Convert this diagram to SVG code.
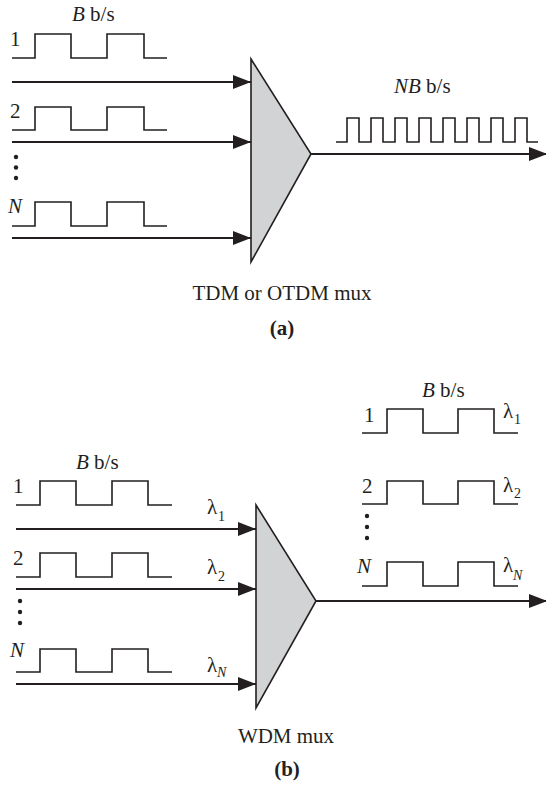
<svg xmlns="http://www.w3.org/2000/svg" width="546" height="786" viewBox="0 0 546 786" font-family="'Liberation Serif', 'Times New Roman', 'DejaVu Serif', serif">
<style>
text{font-family:'Liberation Serif','Times New Roman','DejaVu Serif',serif;font-size:21px;fill:#231f20}
.sub{font-size:14px}
.it{font-style:italic}
.bold{font-weight:bold}
.pulse{fill:none;stroke:#231f20;stroke-width:1.6}
.arrow{fill:none;stroke:#231f20;stroke-width:1.8;marker-end:url(#ah)}
.mux{fill:#d2d3d5;stroke:#231f20;stroke-width:1.6;stroke-linejoin:miter}
.dot{fill:#231f20}
</style>
<defs>
<marker id="ah" markerUnits="userSpaceOnUse" markerWidth="18" markerHeight="14" refX="18" refY="7" orient="auto">
<path d="M0,0 L18,7 L0,14 z" fill="#231f20"/>
</marker>
</defs>

<!-- (a) TDM -->
<g id="tdm-inputs">
<text x="72" y="21"><tspan class="it">B</tspan> b/s</text>
<text x="10" y="46">1</text>
<path class="pulse" d="M12,58 H35 V34 H71 V58 H107 V34 H144 V58 H167"/>
<text x="10" y="118">2</text>
<path class="pulse" d="M12,130 H35 V107 H71 V130 H107 V107 H144 V130 H167"/>
<circle class="dot" cx="16" cy="157" r="2.2"/>
<circle class="dot" cx="16" cy="167.5" r="2.2"/>
<circle class="dot" cx="16" cy="178" r="2.2"/>
<text class="it" x="8" y="213">N</text>
<path class="pulse" d="M12,226 H35 V202 H71 V226 H107 V202 H144 V226 H167"/>
</g>
<g id="tdm-mux">
<polygon class="mux" points="251,59 311,154 251,262"/>
<text x="282" y="300" text-anchor="middle">TDM or OTDM mux</text>
<text class="bold" x="282" y="335" text-anchor="middle">(a)</text>
</g>
<g id="tdm-output">
<text x="394" y="93"><tspan class="it">NB</tspan> b/s</text>
<path class="pulse" d="M336,142 H347 V118 H359 V142 H371 V118 H383 V142 H395 V118 H407 V142 H419 V118 H431 V142 H443 V118 H455 V142 H467 V118 H479 V142 H491 V118 H503 V142 H515 V118 H527 V142 H538"/>
</g>

<!-- (b) WDM -->
<g id="wdm-inputs">
<text x="76" y="469"><tspan class="it">B</tspan> b/s</text>
<text x="13" y="493">1</text>
<path class="pulse" d="M16,505 H40 V481 H76 V505 H112 V481 H148 V505 H172"/>
<text x="207" y="514">λ</text><text class="sub" x="218" y="521">1</text>
<text x="13" y="565">2</text>
<path class="pulse" d="M16,577 H40 V553 H76 V577 H112 V553 H148 V577 H172"/>
<text x="207" y="574">λ</text><text class="sub" x="218" y="581">2</text>
<circle class="dot" cx="20" cy="601" r="2.2"/>
<circle class="dot" cx="20" cy="612" r="2.2"/>
<circle class="dot" cx="20" cy="623" r="2.2"/>
<text class="it" x="10" y="657">N</text>
<path class="pulse" d="M16,672 H40 V649 H76 V672 H112 V649 H148 V672 H172"/>
<text x="207" y="672">λ</text><text class="sub it" x="217" y="677">N</text>
</g>
<g id="wdm-mux">
<polygon class="mux" points="256,505 316,601 256,708"/>
<text x="286" y="743" text-anchor="middle">WDM mux</text>
<text class="bold" x="287" y="776" text-anchor="middle">(b)</text>
</g>
<g id="wdm-output">
<text x="422" y="397"><tspan class="it">B</tspan> b/s</text>
<text x="364" y="422">1</text>
<path class="pulse" d="M362,433 H387 V409 H423 V433 H458 V409 H494 V433 H518"/>
<text x="503" y="418">λ</text><text class="sub" x="514" y="424">1</text>
<text x="362" y="493">2</text>
<path class="pulse" d="M362,504 H387 V481 H423 V504 H458 V481 H494 V504 H518"/>
<text x="503" y="492">λ</text><text class="sub" x="514" y="498">2</text>
<circle class="dot" cx="367" cy="516" r="2.2"/>
<circle class="dot" cx="367" cy="527" r="2.2"/>
<circle class="dot" cx="367" cy="538" r="2.2"/>
<text class="it" x="357" y="573">N</text>
<path class="pulse" d="M362,586 H387 V562 H423 V586 H458 V562 H494 V586 H518"/>
<text x="503" y="572">λ</text><text class="sub it" x="513" y="580">N</text>
</g>

<g id="connectors">
<path class="arrow" d="M12,82 H251"/>
<path class="arrow" d="M12,142 H251"/>
<path class="arrow" d="M12,238 H251"/>
<path class="arrow" d="M311,154 H547"/>
<path class="arrow" d="M16,529 H256"/>
<path class="arrow" d="M16,589 H256"/>
<path class="arrow" d="M16,684 H256"/>
<path class="arrow" d="M316,601 H547"/>
</g>
</svg>
